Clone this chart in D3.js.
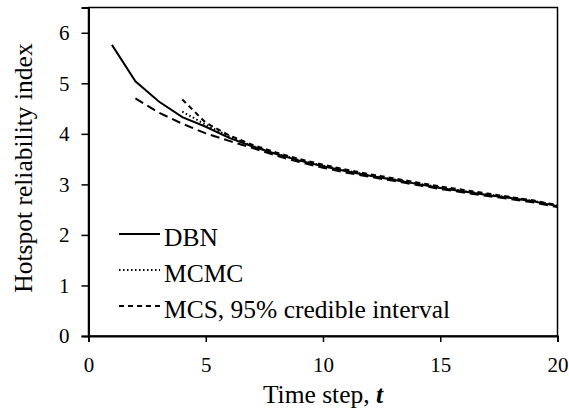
<!DOCTYPE html>
<html><head><meta charset="utf-8">
<script src="https://cdn.jsdelivr.net/npm/d3@7"></script>
</head><body style="margin:0">
<svg id="c" width="569" height="416"></svg>
<script>
const tDBN = [1,2,3,4,5,6,7,8,9,10,11,12,13,14,15,16,17,18,19,20];
const dbn = [5.76,5.04,4.64,4.33,4.14,3.92,3.75,3.6,3.47,3.36,3.26,3.17,3.09,3.01,2.93,2.86,2.79,2.73,2.66,2.57];
const tMCMC = [4,5,6,7,8,9,10,11,12,13,14,15,16,17,18,19,20];
const mcmc = [4.44,4.18,3.95,3.76,3.61,3.48,3.37,3.27,3.18,3.1,3.02,2.94,2.87,2.8,2.74,2.67,2.58];
const tUpper = [4,5,6,7,8,9,10,11,12,13,14,15,16,17,18,19,20];
const mcsUpper = [4.68,4.22,3.97,3.78,3.63,3.5,3.39,3.29,3.2,3.12,3.04,2.96,2.89,2.82,2.75,2.68,2.59];
const tLower = [2,3,4,5,6,7,8,9,10,11,12,13,14,15,16,17,18,19,20];
const mcsLower = [4.7,4.42,4.2,4.01,3.86,3.72,3.57,3.44,3.33,3.23,3.15,3.07,2.99,2.91,2.84,2.77,2.71,2.64,2.55];
const xTicks = [0,5,10,15,20];
const yTicks = [0,1,2,3,4,5,6];
const legendLabels = ["DBN","MCMC","MCS, 95% credible interval"];

const FONT = '"Liberation Serif"';
const svg = d3.select("#c").style("font-family",FONT);
const x = d3.scaleLinear().domain([0,20]).range([88.5,557.5]);
const y = d3.scaleLinear().domain([0,6.5]).range([336,7.5]);

// frame
svg.append("rect").attr("x",88.5).attr("y",7.5).attr("width",469).attr("height",328.5)
  .attr("fill","none").attr("stroke","#000").attr("stroke-width",1.5);

const xAxis = svg.append("g").attr("transform","translate(0,336)")
  .call(d3.axisBottom(x).tickValues(xTicks).tickFormat(d3.format("d")).tickSize(6).tickPadding(15));
const yAxis = svg.append("g").attr("transform","translate(88.5,0)")
  .call(d3.axisLeft(y).tickValues(yTicks).tickFormat(d3.format("d")).tickSize(7).tickPadding(12));
[xAxis,yAxis].forEach(g=>{
  g.attr("font-family",null).attr("font-size",null);
  g.select(".domain").attr("stroke","#000").attr("stroke-width",2);
  g.selectAll(".tick line").attr("stroke","#000").attr("stroke-width",1.5);
  g.selectAll("text").style("font-family",FONT).style("font-size","21px").attr("fill","#000");
});

const line = (ts,vs)=> d3.line().x((d,i)=>x(ts[i])).y(d=>y(d))(vs);
function draw(ts,vs,dash,w){
  svg.append("path").attr("d",line(ts,vs)).attr("fill","none").attr("stroke","#000")
    .attr("stroke-width",w).attr("stroke-dasharray",dash);
}
draw(tLower,mcsLower,"9,5",2);
draw(tUpper,mcsUpper,"5,4",2);
draw(tMCMC,mcmc,"1.5,2.5",2);
draw(tDBN,dbn,null,2);

// legend
const dashes = [null,"1.5,2.5","5,4"];
legendLabels.forEach((lab,i)=>{
  const ly = 234 + i*36;
  svg.append("line").attr("x1",119).attr("x2",160).attr("y1",ly).attr("y2",ly)
    .attr("stroke","#000").attr("stroke-width",2).attr("stroke-dasharray",dashes[i]);
  svg.append("text").attr("x",164).attr("y",ly+11.5)
    .style("font-family",FONT).style("font-size","25.5px").text(lab);
});

// axis titles
const xt = svg.append("text").attr("x",323).attr("y",403).attr("text-anchor","middle")
  .style("font-family",FONT).style("font-size","25.5px");
xt.append("tspan").text("Time step, ");
xt.append("tspan").style("font-style","italic").style("font-weight","bold").text("t");
svg.append("text").attr("transform","translate(32,168) rotate(-90)").attr("text-anchor","middle")
  .style("font-family",FONT).style("font-size","25.5px").text("Hotspot reliability index");
</script>
</body></html>
